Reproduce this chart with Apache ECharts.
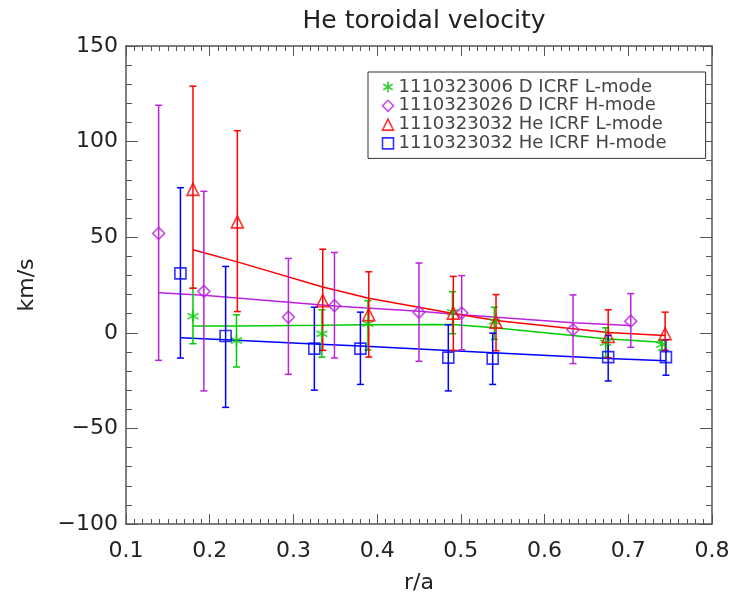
<!DOCTYPE html>
<html>
<head>
<meta charset="utf-8">
<script src="https://cdn.jsdelivr.net/npm/echarts@6/dist/echarts.min.js"></script>
<style>
  html, body { margin: 0; padding: 0; background: #fff; }
  #main { width: 736px; height: 599px; }
</style>
</head>
<body>
<div id="main"></div>
<script>
// shot series
var names = ['1110323006 D ICRF L-mode', '1110323026 D ICRF H-mode', '1110323032 He ICRF L-mode', '1110323032 He ICRF H-mode'];
var colors = ['#00cc00', '#bb22dd', '#ff0000', '#0000ff'];

// D ICRF L-mode (green asterisk)
var dLx   = [0.180, 0.232, 0.334, 0.389, 0.490, 0.540, 0.673, 0.740];
var dLv   = [8.7, -4.0, -0.5, 4.7, 10.8, 5.9, -5.2, -6.2];
var dLlo  = [-5.7, -17.9, -12.7, -9.0, -0.5, -3.5, -12.7, -9.0];
var dLhi  = [23.3, 9.4, 12.0, 16.8, 21.5, 13.4, 2.6, -4.0];
var dLfit = [3.5, 3.6, 3.9, 4.2, 4.3, 2.6, -3.1, -4.9];

// D ICRF H-mode (purple diamond)
var dHx   = [0.139, 0.193, 0.294, 0.349, 0.450, 0.501, 0.634, 0.703];
var dHv   = [52.0, 21.7, 8.2, 14.2, 10.8, 10.3, 1.6, 6.1];
var dHlo  = [-14.4, -30.4, -21.7, -13.2, -14.9, -8.9, -16.1, -7.6];
var dHhi  = [119.0, 74.0, 38.9, 42.0, 36.5, 29.9, 19.8, 20.5];
var dHfit = [21.0, 19.6, 16.0, 14.0, 11.3, 9.5, 5.2, 3.8];

// He ICRF L-mode (red triangle)
var heLx   = [0.180, 0.233, 0.335, 0.390, 0.491, 0.542, 0.676, 0.744];
var heLv   = [75.0, 58.0, 16.8, 9.5, 10.3, 5.6, -1.9, -0.5];
var heLlo  = [23.3, 11.1, -9.2, -12.7, -9.2, -9.4, -13.0, -9.2];
var heLhi  = [129.0, 105.7, 43.7, 31.9, 29.5, 20.0, 12.0, 10.8];
var heLfit = [43.4, 37.1, 24.0, 18.1, 10.1, 6.4, 0.2, -1.4];

// He ICRF H-mode (blue square)
var heHx   = [0.165, 0.219, 0.325, 0.380, 0.485, 0.538, 0.676, 0.745];
var heHv   = [31.1, -1.7, -8.3, -8.3, -13.0, -13.5, -12.7, -12.7];
var heHlo  = [-13.2, -39.0, -30.0, -27.0, -30.4, -27.0, -25.2, -22.2];
var heHhi  = [75.9, 34.7, 13.4, 10.8, 4.2, -0.2, -1.4, -3.6];
var heHfit = [-2.6, -3.6, -5.9, -6.9, -9.2, -10.4, -13.5, -14.6];

var xTicks = ['0.1', '0.2', '0.3', '0.4', '0.5', '0.6', '0.7', '0.8'];

var asterisk = 'path://M5,0 L5,10 M0.7,2.5 L9.3,7.5 M9.3,2.5 L0.7,7.5';
var sets = [
  { x: dLx, v: dLv, lo: dLlo, hi: dLhi, fit: dLfit, symbol: asterisk, size: 11 },
  { x: dHx, v: dHv, lo: dHlo, hi: dHhi, fit: dHfit, symbol: 'diamond', size: 12 },
  { x: heLx, v: heLv, lo: heLlo, hi: heLhi, fit: heLfit, symbol: 'triangle', size: 12 },
  { x: heHx, v: heHv, lo: heHlo, hi: heHhi, fit: heHfit, symbol: 'rect', size: 11 }
];

function zip(a, b, c) {
  return a.map(function (x, i) { return c ? [x, b[i], c[i]] : [x, b[i]]; });
}

function errorBar(color) {
  return function (params, api) {
    var top = api.coord([api.value(0), api.value(2)]);
    var bot = api.coord([api.value(0), api.value(1)]);
    var w = 3.5;
    var st = { stroke: color, lineWidth: 1.5 };
    return {
      type: 'group',
      children: [
        { type: 'line', shape: { x1: top[0], y1: top[1], x2: bot[0], y2: bot[1] }, style: st },
        { type: 'line', shape: { x1: top[0] - w, y1: top[1], x2: top[0] + w, y2: top[1] }, style: st },
        { type: 'line', shape: { x1: bot[0] - w, y1: bot[1], x2: bot[0] + w, y2: bot[1] }, style: st }
      ]
    };
  };
}

var series = [];
sets.forEach(function (s, i) {
  series.push({
    name: names[i] + ' fit',
    type: 'line',
    data: zip(s.x, s.fit),
    symbol: 'none',
    lineStyle: { color: colors[i], width: 1.5 },
    z: 2
  });
  series.push({
    name: names[i] + ' err',
    type: 'custom',
    data: zip(s.x, s.lo, s.hi),
    renderItem: errorBar(colors[i]),
    z: 3
  });
  series.push({
    name: names[i],
    type: 'scatter',
    data: zip(s.x, s.v),
    symbol: s.symbol,
    symbolSize: s.size,
    itemStyle: { color: 'none', borderColor: colors[i], borderWidth: 1.6 },
    z: 4
  });
});

var chart = echarts.init(document.getElementById('main'), null, { renderer: 'canvas' });

var font = 'DejaVu Sans';
var axisCol = '#555';

chart.setOption({
  animation: false,
  backgroundColor: '#fff',
  title: {
    text: 'He toroidal velocity',
    left: 419,
    top: 4,
    textAlign: 'center',
    textStyle: { fontFamily: font, fontSize: 25, fontWeight: 'normal', color: '#222' }
  },
  grid: { left: 126, right: 24, top: 46, bottom: 74 },
  legend: {
    data: names.map(function (n, i) {
      return { name: n, icon: sets[i].symbol,
        itemStyle: { color: 'none', borderColor: colors[i], borderWidth: 1.6 } };
    }),
    orient: 'vertical',
    left: 368,
    top: 72,
    itemWidth: 11,
    itemHeight: 11,
    itemGap: 0.8,
    padding: [6, 39, 6, 12],
    borderColor: '#333',
    borderWidth: 1,
    backgroundColor: '#fff',
    selectedMode: false,
    textStyle: { fontFamily: font, fontSize: 18, lineHeight: 18, color: '#444' }
  },
  xAxis: [{
    type: 'value',
    min: 0.1, max: 0.8, interval: 0.1,
    name: 'r/a',
    nameLocation: 'middle',
    nameGap: 48,
    nameTextStyle: { fontFamily: font, fontSize: 22, color: '#222' },
    axisLine: { onZero: false, lineStyle: { color: axisCol, width: 1.5 } },
    axisTick: { inside: true, length: 10, lineStyle: { color: axisCol } },
    minorTick: { show: true, splitNumber: 10, length: 5, lineStyle: { color: axisCol } },
    axisLabel: { formatter: function (v) { return xTicks[Math.round(v * 10) - 1]; },
      margin: 16, fontFamily: font, fontSize: 22, color: '#222' },
    splitLine: { show: false }
  }, {
    type: 'value', position: 'top',
    min: 0.1, max: 0.8, interval: 0.1,
    axisLine: { onZero: false, lineStyle: { color: axisCol, width: 1.5 } },
    axisTick: { inside: true, length: 10, lineStyle: { color: axisCol } },
    minorTick: { show: true, splitNumber: 10, length: 5, lineStyle: { color: axisCol } },
    axisLabel: { show: false },
    splitLine: { show: false }
  }],
  yAxis: [{
    type: 'value',
    min: -100, max: 150, interval: 50,
    name: 'km/s',
    nameLocation: 'middle',
    nameGap: 88,
    nameRotate: 90,
    nameTextStyle: { fontFamily: font, fontSize: 22, color: '#222' },
    axisLine: { show: true, onZero: false, lineStyle: { color: axisCol, width: 1.5 } },
    axisTick: { show: true, inside: true, length: 12, lineStyle: { color: axisCol } },
    minorTick: { show: true, splitNumber: 5, length: 6, lineStyle: { color: axisCol } },
    axisLabel: { margin: 8, fontFamily: font, fontSize: 22, color: '#222',
      formatter: function (v) { return String(v).replace('-', '\u2212'); } },
    splitLine: { show: false }
  }, {
    type: 'value', position: 'right',
    min: -100, max: 150, interval: 50,
    axisLine: { show: true, onZero: false, lineStyle: { color: axisCol, width: 1.5 } },
    axisTick: { show: true, inside: true, length: 12, lineStyle: { color: axisCol } },
    minorTick: { show: true, splitNumber: 5, length: 6, lineStyle: { color: axisCol } },
    axisLabel: { show: false },
    splitLine: { show: false }
  }],
  series: series
});
</script>
</body>
</html>
